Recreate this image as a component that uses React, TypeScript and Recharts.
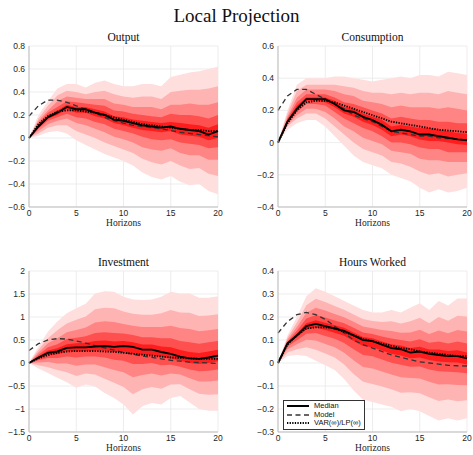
import { ComposedChart, Area, Line, XAxis, YAxis, CartesianGrid, Legend } from 'recharts'

const horizons = [0, 1, 2, 3, 4, 5, 6, 7, 8, 9, 10, 11, 12, 13, 14, 15, 16, 17, 18, 19, 20]
const xTicks = [0, 5, 10, 15, 20]

// Output
const outputMedian = [0, 0.1, 0.18, 0.22, 0.27, 0.25, 0.25, 0.22, 0.2, 0.16, 0.15, 0.13, 0.11, 0.1, 0.09, 0.1, 0.08, 0.07, 0.06, 0.03, 0.06]
const outputModel = [0.19, 0.28, 0.33, 0.33, 0.31, 0.28, 0.25, 0.22, 0.18, 0.15, 0.13, 0.11, 0.1, 0.09, 0.08, 0.065, 0.05, 0.04, 0.03, 0.02, 0.01]
const outputVarLp = [0, 0.12, 0.19, 0.23, 0.24, 0.24, 0.23, 0.22, 0.2, 0.18, 0.16, 0.14, 0.12, 0.11, 0.1, 0.09, 0.08, 0.07, 0.07, 0.06, 0.06]
const outputUpper = [
  [0, 0.2, 0.32, 0.43, 0.47, 0.47, 0.44, 0.48, 0.5, 0.47, 0.45, 0.45, 0.47, 0.47, 0.45, 0.53, 0.55, 0.57, 0.58, 0.6, 0.62],
  [0, 0.17, 0.28, 0.37, 0.41, 0.4, 0.38, 0.4, 0.41, 0.38, 0.36, 0.35, 0.36, 0.36, 0.34, 0.4, 0.41, 0.42, 0.42, 0.43, 0.45],
  [0, 0.15, 0.24, 0.32, 0.36, 0.35, 0.34, 0.34, 0.34, 0.3, 0.29, 0.27, 0.27, 0.27, 0.25, 0.29, 0.29, 0.3, 0.29, 0.29, 0.31],
  [0, 0.13, 0.22, 0.27, 0.32, 0.31, 0.3, 0.29, 0.28, 0.24, 0.23, 0.21, 0.2, 0.19, 0.18, 0.21, 0.2, 0.2, 0.19, 0.17, 0.2],
  [0, 0.11, 0.19, 0.24, 0.29, 0.27, 0.27, 0.25, 0.23, 0.19, 0.18, 0.16, 0.15, 0.14, 0.13, 0.14, 0.13, 0.12, 0.11, 0.09, 0.12],
]
const outputLower = [
  [0, 0.02, 0.05, 0.06, 0.04, -0.02, -0.06, -0.1, -0.14, -0.17, -0.2, -0.24, -0.3, -0.34, -0.36, -0.33, -0.38, -0.41, -0.4, -0.46, -0.49],
  [0, 0.04, 0.09, 0.11, 0.11, 0.06, 0.03, 0, -0.04, -0.07, -0.1, -0.13, -0.18, -0.21, -0.23, -0.2, -0.24, -0.27, -0.26, -0.31, -0.33],
  [0, 0.06, 0.12, 0.15, 0.17, 0.13, 0.11, 0.08, 0.05, 0.01, -0.01, -0.04, -0.08, -0.1, -0.11, -0.09, -0.13, -0.15, -0.15, -0.19, -0.19],
  [0, 0.08, 0.15, 0.18, 0.21, 0.18, 0.17, 0.14, 0.12, 0.08, 0.06, 0.04, 0.01, -0.01, -0.02, -0.01, -0.04, -0.05, -0.06, -0.09, -0.08],
  [0, 0.09, 0.17, 0.2, 0.25, 0.22, 0.22, 0.19, 0.17, 0.13, 0.11, 0.09, 0.07, 0.06, 0.05, 0.06, 0.03, 0.02, 0.01, -0.02, 0],
]
const outputTicks = [-0.6, -0.4, -0.2, 0, 0.2, 0.4, 0.6, 0.8]

// Consumption
const consMedian = [0, 0.13, 0.21, 0.27, 0.27, 0.27, 0.24, 0.2, 0.19, 0.16, 0.14, 0.11, 0.07, 0.08, 0.07, 0.05, 0.05, 0.04, 0.03, 0.02, 0.015]
const consModel = [0.2, 0.29, 0.33, 0.33, 0.3, 0.27, 0.24, 0.21, 0.17, 0.15, 0.13, 0.1, 0.07, 0.06, 0.05, 0.04, 0.04, 0.03, 0.025, 0.02, 0.015]
const consVarLp = [0, 0.12, 0.2, 0.25, 0.26, 0.26, 0.25, 0.23, 0.21, 0.19, 0.17, 0.15, 0.13, 0.12, 0.11, 0.1, 0.09, 0.08, 0.075, 0.07, 0.065]
const consUpper = [
  [0, 0.2, 0.36, 0.4, 0.4, 0.4, 0.41, 0.41, 0.4, 0.39, 0.38, 0.39, 0.4, 0.41, 0.4, 0.42, 0.42, 0.41, 0.44, 0.43, 0.42],
  [0, 0.18, 0.32, 0.36, 0.36, 0.36, 0.36, 0.35, 0.34, 0.32, 0.31, 0.31, 0.3, 0.31, 0.3, 0.31, 0.31, 0.3, 0.32, 0.31, 0.3],
  [0, 0.16, 0.28, 0.33, 0.33, 0.33, 0.32, 0.3, 0.29, 0.26, 0.25, 0.24, 0.22, 0.23, 0.22, 0.22, 0.22, 0.21, 0.22, 0.21, 0.2],
  [0, 0.15, 0.25, 0.3, 0.3, 0.3, 0.28, 0.25, 0.24, 0.22, 0.2, 0.18, 0.15, 0.16, 0.15, 0.14, 0.14, 0.13, 0.13, 0.12, 0.12],
  [0, 0.14, 0.23, 0.28, 0.28, 0.28, 0.26, 0.22, 0.21, 0.18, 0.16, 0.14, 0.1, 0.11, 0.1, 0.09, 0.09, 0.08, 0.07, 0.06, 0.055],
]
const consLower = [
  [0, 0.08, 0.12, 0.14, 0.14, 0.1, 0.04, -0.02, -0.08, -0.12, -0.14, -0.16, -0.2, -0.22, -0.24, -0.28, -0.31, -0.29, -0.31, -0.3, -0.28],
  [0, 0.1, 0.15, 0.18, 0.18, 0.15, 0.1, 0.05, 0, -0.04, -0.06, -0.08, -0.12, -0.13, -0.15, -0.18, -0.2, -0.19, -0.21, -0.2, -0.19],
  [0, 0.11, 0.17, 0.21, 0.21, 0.19, 0.15, 0.1, 0.07, 0.03, 0.01, -0.01, -0.05, -0.06, -0.07, -0.1, -0.11, -0.11, -0.12, -0.12, -0.12],
  [0, 0.12, 0.19, 0.24, 0.24, 0.23, 0.19, 0.15, 0.12, 0.09, 0.07, 0.04, 0, 0, -0.01, -0.03, -0.04, -0.04, -0.06, -0.06, -0.06],
  [0, 0.125, 0.2, 0.26, 0.26, 0.25, 0.22, 0.18, 0.16, 0.13, 0.11, 0.08, 0.04, 0.05, 0.04, 0.02, 0.01, 0.01, 0, -0.01, -0.015],
]
const consTicks = [-0.4, -0.2, 0, 0.2, 0.4, 0.6]

// Investment
const invMedian = [0, 0.12, 0.22, 0.25, 0.33, 0.34, 0.34, 0.36, 0.37, 0.35, 0.37, 0.35, 0.29, 0.29, 0.24, 0.2, 0.14, 0.1, 0.09, 0.12, 0.16]
const invModel = [0.27, 0.42, 0.5, 0.53, 0.52, 0.48, 0.43, 0.38, 0.33, 0.28, 0.23, 0.19, 0.15, 0.12, 0.09, 0.06, 0.04, 0.02, 0.01, 0, -0.01]
const invVarLp = [0, 0.1, 0.17, 0.22, 0.25, 0.26, 0.26, 0.26, 0.25, 0.24, 0.22, 0.2, 0.18, 0.16, 0.14, 0.12, 0.11, 0.1, 0.09, 0.09, 0.09]
const invUpper = [
  [0, 0.36, 0.68, 0.9, 1.08, 1.19, 1.29, 1.51, 1.56, 1.55, 1.44, 1.38, 1.37, 1.38, 1.44, 1.55, 1.51, 1.51, 1.42, 1.42, 1.45],
  [0, 0.29, 0.54, 0.71, 0.86, 0.94, 1.01, 1.17, 1.2, 1.19, 1.12, 1.07, 1.05, 1.05, 1.08, 1.15, 1.1, 1.09, 1.02, 1.03, 1.06],
  [0, 0.23, 0.43, 0.54, 0.67, 0.72, 0.77, 0.88, 0.91, 0.89, 0.85, 0.81, 0.78, 0.78, 0.78, 0.81, 0.76, 0.74, 0.69, 0.71, 0.74],
  [0, 0.18, 0.34, 0.41, 0.52, 0.55, 0.58, 0.65, 0.67, 0.65, 0.64, 0.61, 0.56, 0.56, 0.54, 0.54, 0.48, 0.45, 0.42, 0.45, 0.48],
  [0, 0.14, 0.27, 0.32, 0.41, 0.43, 0.44, 0.48, 0.49, 0.47, 0.48, 0.45, 0.4, 0.4, 0.36, 0.34, 0.28, 0.24, 0.22, 0.25, 0.29],
]
const invLower = [
  [0, -0.12, -0.22, -0.32, -0.42, -0.54, -0.47, -0.51, -0.65, -0.76, -0.9, -1.12, -0.94, -0.87, -0.9, -0.76, -0.72, -0.86, -1.0, -1.04, -1.04],
  [0, -0.05, -0.09, -0.15, -0.2, -0.28, -0.23, -0.25, -0.34, -0.43, -0.52, -0.68, -0.57, -0.52, -0.56, -0.47, -0.46, -0.57, -0.67, -0.69, -0.68],
  [0, 0.01, 0.02, -0.01, -0.01, -0.06, -0.03, -0.03, -0.09, -0.15, -0.2, -0.31, -0.26, -0.23, -0.27, -0.23, -0.25, -0.33, -0.4, -0.4, -0.38],
  [0, 0.06, 0.11, 0.11, 0.14, 0.12, 0.14, 0.14, 0.12, 0.07, 0.05, -0.02, -0.02, 0, -0.05, -0.04, -0.08, -0.14, -0.18, -0.17, -0.14],
  [0, 0.1, 0.18, 0.19, 0.26, 0.25, 0.26, 0.27, 0.27, 0.24, 0.24, 0.2, 0.17, 0.17, 0.13, 0.1, 0.05, 0, -0.02, 0, 0.04],
]
const invTicks = [-1.5, -1, -0.5, 0, 0.5, 1, 1.5, 2]

// Hours Worked
const hoursMedian = [0, 0.085, 0.12, 0.16, 0.17, 0.16, 0.15, 0.14, 0.12, 0.1, 0.095, 0.08, 0.065, 0.06, 0.045, 0.05, 0.04, 0.035, 0.03, 0.03, 0.02]
const hoursModel = [0.13, 0.18, 0.21, 0.22, 0.21, 0.19, 0.16, 0.13, 0.1, 0.08, 0.065, 0.05, 0.035, 0.025, 0.015, 0.005, 0, -0.005, -0.01, -0.012, -0.013]
const hoursVarLp = [0, 0.08, 0.12, 0.15, 0.155, 0.155, 0.15, 0.135, 0.12, 0.105, 0.095, 0.085, 0.075, 0.065, 0.06, 0.05, 0.045, 0.04, 0.035, 0.03, 0.03]
const hoursUpper = [
  [0, 0.12, 0.2, 0.29, 0.325, 0.31, 0.29, 0.27, 0.25, 0.23, 0.22, 0.22, 0.23, 0.22, 0.24, 0.26, 0.23, 0.27, 0.25, 0.28, 0.28],
  [0, 0.11, 0.176, 0.251, 0.279, 0.265, 0.248, 0.231, 0.211, 0.191, 0.183, 0.178, 0.181, 0.172, 0.182, 0.197, 0.173, 0.2, 0.184, 0.205, 0.202],
  [0, 0.101, 0.156, 0.219, 0.24, 0.228, 0.213, 0.199, 0.179, 0.159, 0.151, 0.143, 0.139, 0.132, 0.133, 0.145, 0.126, 0.141, 0.129, 0.143, 0.137],
  [0, 0.094, 0.14, 0.193, 0.209, 0.198, 0.185, 0.173, 0.153, 0.133, 0.126, 0.115, 0.106, 0.1, 0.094, 0.103, 0.088, 0.094, 0.085, 0.093, 0.085],
  [0, 0.089, 0.128, 0.173, 0.186, 0.175, 0.164, 0.153, 0.133, 0.113, 0.108, 0.094, 0.082, 0.076, 0.065, 0.071, 0.059, 0.059, 0.052, 0.055, 0.046],
]
const hoursLower = [
  [0, 0.03, 0.035, 0.03, 0.01, -0.01, -0.03, -0.07, -0.12, -0.16, -0.17, -0.18, -0.19, -0.21, -0.2, -0.21, -0.23, -0.25, -0.24, -0.25, -0.24],
  [0, 0.046, 0.06, 0.069, 0.058, 0.041, 0.024, -0.007, -0.048, -0.082, -0.091, -0.102, -0.114, -0.129, -0.127, -0.132, -0.149, -0.165, -0.159, -0.166, -0.162],
  [0, 0.06, 0.082, 0.101, 0.098, 0.083, 0.069, 0.045, 0.012, -0.017, -0.024, -0.037, -0.05, -0.062, -0.065, -0.067, -0.082, -0.093, -0.092, -0.096, -0.097],
  [0, 0.071, 0.099, 0.127, 0.13, 0.117, 0.105, 0.087, 0.06, 0.035, 0.029, 0.015, 0.001, -0.008, -0.016, -0.015, -0.028, -0.036, -0.038, -0.04, -0.045],
  [0, 0.08, 0.112, 0.147, 0.154, 0.143, 0.132, 0.119, 0.096, 0.074, 0.069, 0.054, 0.04, 0.033, 0.021, 0.024, 0.013, 0.007, 0.003, 0.002, -0.006],
]
const hoursTicks = [-0.3, -0.2, -0.1, 0, 0.1, 0.2, 0.3, 0.4]

const legendLabels = ['Median', 'Model', 'VAR(∞)/LP(∞)']

// outermost band first
const bandColors = ['#ffdede', '#ffb4b4', '#ff8585', '#ff5050', '#ff1c1c']

const PLOT_W = 189
const PLOT_H = 161
const Y_W = 30
const M_TOP = 10
const M_RIGHT = 6
const X_H = 16

const serif = '"Liberation Serif", "DejaVu Serif", serif'
const sans = '"Liberation Sans", Arial, sans-serif'

const fmt = (v: number) => (v < 0 ? '\u2212' + String(Math.abs(v)) : String(v))

function LegendBox() {
  const styles = [
    { dash: undefined, width: 2 },
    { dash: '5 3.5', width: 1.3 },
    { dash: '1.3 1.3', width: 1.8 },
  ]
  return (
    <div
      style={{
        border: '0.8px solid #333',
        background: '#fff',
        padding: '1px 3px 1px 2px',
        fontFamily: sans,
        fontSize: 7.5,
        lineHeight: '8.5px',
        color: '#111',
      }}
    >
      {legendLabels.map((lbl, i) => (
        <div key={lbl} style={{ display: 'flex', alignItems: 'center', whiteSpace: 'nowrap' }}>
          <svg width={24} height={8} style={{ marginRight: 4 }}>
            <line x1={1} x2={23} y1={4} y2={4} stroke={i === 1 ? '#333' : '#000'} strokeWidth={styles[i].width} strokeDasharray={styles[i].dash} />
          </svg>
          <span>{lbl}</span>
        </div>
      ))}
    </div>
  )
}

type PanelProps = {
  title: string
  median: number[]
  model: number[]
  varLp: number[]
  upper: number[][]
  lower: number[][]
  ticks: number[]
  plotLeft: number
  plotTop: number
  legend?: boolean
}

function Panel({ title, median, model, varLp, upper, lower, ticks, plotLeft, plotTop, legend }: PanelProps) {
  const rows = horizons.map((h, i) => {
    const row: Record<string, unknown> = { h, median: median[i], model: model[i], varLp: varLp[i] }
    upper.forEach((u, k) => {
      row['band' + k] = [lower[k][i], u[i]]
    })
    return row
  })
  const width = Y_W + PLOT_W + M_RIGHT
  const height = M_TOP + PLOT_H + X_H
  const tick = { fontSize: 8.5, fill: '#262626', fontFamily: sans }
  return (
    <div style={{ position: 'absolute', left: plotLeft - Y_W, top: plotTop - M_TOP, width, height }}>
      <div
        style={{
          position: 'absolute',
          left: Y_W,
          width: PLOT_W,
          top: M_TOP - 16,
          lineHeight: '14px',
          textAlign: 'center',
          fontFamily: serif,
          fontSize: 11.5,
          color: '#111',
        }}
      >
        {title}
      </div>
      <ComposedChart width={width} height={height} data={rows} margin={{ top: M_TOP, right: M_RIGHT, bottom: 0, left: 0 }}>
        <CartesianGrid stroke="#e9e9e9" strokeWidth={0.8} />
        <XAxis
          dataKey="h"
          type="number"
          domain={[0, 20]}
          ticks={xTicks}
          interval={0}
          height={X_H}
          tick={tick}
          tickLine={false}
          tickSize={2}
          tickMargin={1}
          axisLine={{ stroke: '#bdbdbd' }}
        />
        <YAxis
          type="number"
          domain={[ticks[0], ticks[ticks.length - 1]]}
          ticks={ticks}
          interval={0}
          allowDataOverflow
          width={Y_W}
          tick={tick}
          tickFormatter={fmt}
          tickLine={false}
          tickSize={2}
          tickMargin={2}
          axisLine={{ stroke: '#bdbdbd' }}
        />
        {bandColors.map((c, k) => (
          <Area
            key={c}
            dataKey={'band' + k}
            type="linear"
            stroke="none"
            fill={c}
            fillOpacity={1}
            dot={false}
            activeDot={false}
            isAnimationActive={false}
          />
        ))}
        <Line dataKey="model" type="linear" stroke="#333" strokeWidth={1.3} strokeDasharray="5 3.5" dot={false} activeDot={false} isAnimationActive={false} />
        <Line dataKey="varLp" type="linear" stroke="#000" strokeWidth={1.8} strokeDasharray="1.3 1.3" dot={false} activeDot={false} isAnimationActive={false} />
        <Line dataKey="median" type="linear" stroke="#000" strokeWidth={1.9} dot={false} activeDot={false} isAnimationActive={false} />
        {legend && (
          <Legend
            layout="vertical"
            align="center"
            verticalAlign="middle"
            content={() => <LegendBox />}
            wrapperStyle={{ left: 35, top: 139, width: 'auto' }}
          />
        )}
      </ComposedChart>
      <div
        style={{
          position: 'absolute',
          left: Y_W,
          width: PLOT_W,
          top: M_TOP + PLOT_H + 9,
          lineHeight: '14px',
          textAlign: 'center',
          fontFamily: serif,
          fontSize: 9.5,
          color: '#222',
        }}
      >
        Horizons
      </div>
    </div>
  )
}

export default function App() {
  return (
    <div style={{ position: 'relative', width: 473, height: 455, background: '#fff', overflow: 'hidden' }}>
      <style>{'body{margin:0;background:#fff}'}</style>
      <div
        style={{
          position: 'absolute',
          left: 0,
          width: 473,
          top: 4,
          lineHeight: '23px',
          textAlign: 'center',
          fontFamily: serif,
          fontSize: 19,
          color: '#111',
        }}
      >
        Local Projection
      </div>
      <Panel title="Output" median={outputMedian} model={outputModel} varLp={outputVarLp} upper={outputUpper} lower={outputLower} ticks={outputTicks} plotLeft={29} plotTop={46} />
      <Panel title="Consumption" median={consMedian} model={consModel} varLp={consVarLp} upper={consUpper} lower={consLower} ticks={consTicks} plotLeft={278} plotTop={46} />
      <Panel title="Investment" median={invMedian} model={invModel} varLp={invVarLp} upper={invUpper} lower={invLower} ticks={invTicks} plotLeft={29} plotTop={271} />
      <Panel title="Hours Worked" median={hoursMedian} model={hoursModel} varLp={hoursVarLp} upper={hoursUpper} lower={hoursLower} ticks={hoursTicks} plotLeft={278} plotTop={271} legend />
    </div>
  )
}
